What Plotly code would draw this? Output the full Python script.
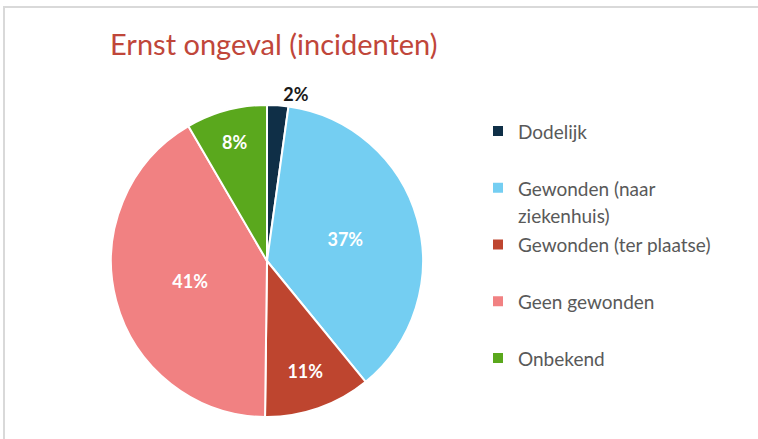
import plotly.graph_objects as go

categories = ["Dodelijk", "Gewonden (naar ziekenhuis)", "Gewonden (ter plaatse)", "Geen gewonden", "Onbekend"]
legend_lines = [["Dodelijk"], ["Gewonden (naar", "ziekenhuis)"], ["Gewonden (ter plaatse)"],
                ["Geen gewonden"], ["Onbekend"]]
shares = [2.2, 36.9, 11.1, 41.4, 8.4]
colors = ["#0F2F47", "#74CEF2", "#BE452F", "#F18182", "#5AA81D"]
text_positions = ["outside", "inside", "inside", "inside", "inside"]


def legend_label(lines):
    spans = ['<span style="font-size:19px">' + s + "</span>" for s in lines]
    while len(spans) < 2:
        spans.append(" ")
    return "<br>".join(spans)


legend_labels = [legend_label(l) for l in legend_lines]

W, H = 758, 439
mt, mb = 105, 22
cx, r = 267, 156

fig = go.Figure(go.Pie(
    labels=legend_labels,
    values=shares,
    customdata=categories,
    sort=False,
    direction="clockwise",
    rotation=0,
    marker=dict(colors=colors, line=dict(color="white", width=2)),
    texttemplate="%{percent:.0%}",
    textposition=text_positions,
    insidetextorientation="horizontal",
    insidetextfont=dict(color="white", size=18, family="Lato", weight="bold"),
    outsidetextfont=dict(color="#1a1a1a", size=18, family="Lato", weight="bold"),
    hovertemplate="%{customdata}: %{percent:.0%}<extra></extra>",
    domain=dict(x=[(cx - r) / W, (cx + r) / W], y=[0, 1]),
))

plot_h = H - mt - mb
fig.update_layout(
    width=W, height=H,
    margin=dict(l=0, r=0, t=mt, b=mb),
    paper_bgcolor="white",
    plot_bgcolor="white",
    title=dict(text="Ernst ongeval (incidenten)", x=110 / W, xanchor="left",
               y=1 - 45 / H, yanchor="middle",
               font=dict(family="Lato", size=29, color="#C0463A")),
    legend=dict(x=478 / W, xanchor="left", y=(H - mb - 111) / plot_h, yanchor="top",
                valign="top", font=dict(family="Lato", size=20.67, color="#595959"),
                traceorder="normal"),
    shapes=[dict(type="rect", xref="paper", yref="paper",
                 x0=4 / W, x1=2.0, y0=-0.5, y1=(H - mb - 7) / plot_h,
                 line=dict(color="#D9D9D9", width=2), fillcolor="rgba(0,0,0,0)", layer="below")],
)

fig.write_html("out.html", config={"displayModeBar": False},
               post_script="document.body.style.margin='0';")
